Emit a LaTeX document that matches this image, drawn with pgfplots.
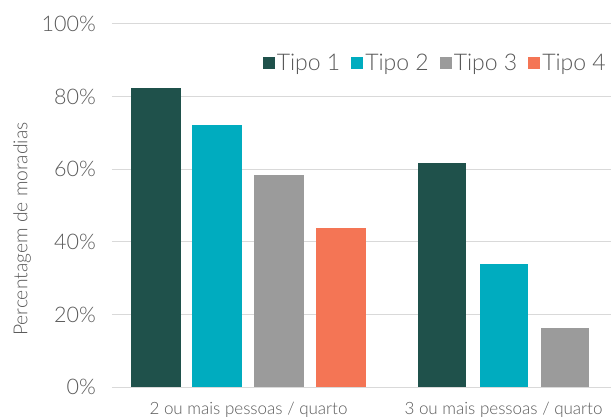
\documentclass[border=0pt]{standalone}
\usepackage{pgfplots}
\pgfplotsset{compat=1.18}
\usepackage{fontspec}
\setmainfont{Lato}[UprightFont={* Light}]
\definecolor{tA}{HTML}{1F514B}
\definecolor{tB}{HTML}{00ACBF}
\definecolor{tC}{HTML}{9B9B9B}
\definecolor{tD}{HTML}{F47555}
\definecolor{txt}{HTML}{595959}
\definecolor{grd}{HTML}{D9D9D9}
\begin{document}
\begin{tikzpicture}
\begin{axis}[
  at={(0,0)}, anchor=south west,
  scale only axis, width=499bp, height=363bp,
  xmin=112, xmax=611, ymin=0, ymax=100,
  axis line style={draw=none},
  major tick length=0pt,
  ymajorgrids, grid style={grd, line width=1bp},
  ytick={0,20,40,60,80,100},
  yticklabel={\pgfmathprintnumber{\tick}\%},
  /pgf/number format/assume math mode=true,
  yticklabel style={anchor=east, inner sep=0pt, xshift=-16bp, font=\fontsize{21.5bp}{25bp}\selectfont, text=txt},
  xtick={248.5,503.5},
  xticklabels={2 ou mais pessoas / quarto, 3 ou mais pessoas / quarto},
  xticklabel style={anchor=base, inner sep=0pt, yshift=-27bp, font=\fontsize{17bp}{20bp}\selectfont, text=txt},
  ylabel={Percentagem de moradias},
  ylabel style={at={(axis description cs:-0.180,0.435)}, anchor=center, font=\fontsize{19.3bp}{23bp}\selectfont, text=txt},
  ybar, bar shift=0pt,
  legend columns=4,
  legend style={at={(axis description cs:0.994,0.893)}, anchor=east, draw=none, fill=none,
    font=\fontsize{23bp}{27bp}\selectfont, text=txt, inner sep=0pt,
    nodes={inner sep=2bp},
    /tikz/every odd column/.append style={column sep=0bp},
    /tikz/every even column/.append style={column sep=9bp}},
  legend image code/.code={\fill[#1] (0bp,-6bp) rectangle (12bp,6bp);},
]
\addplot[fill=tA, draw=none, bar width=50] coordinates {(156,82.4)};
\addplot[fill=tB, draw=none, bar width=50] coordinates {(217,72.2)};
\addplot[fill=tC, draw=none, bar width=50] coordinates {(279,58.4)};
\addplot[fill=tD, draw=none, bar width=50] coordinates {(341,43.8)};
\addplot[fill=tA, draw=none, bar width=48, forget plot] coordinates {(442,61.7)};
\addplot[fill=tB, draw=none, bar width=48, forget plot] coordinates {(504,33.9)};
\addplot[fill=tC, draw=none, bar width=48, forget plot] coordinates {(565,16.3)};
\legend{Tipo 1, Tipo 2, Tipo 3, Tipo 4}
\end{axis}
\pgfresetboundingbox
\path[use as bounding box] (-112bp,-32bp) rectangle (499bp,387bp);
\end{tikzpicture}
\end{document}
